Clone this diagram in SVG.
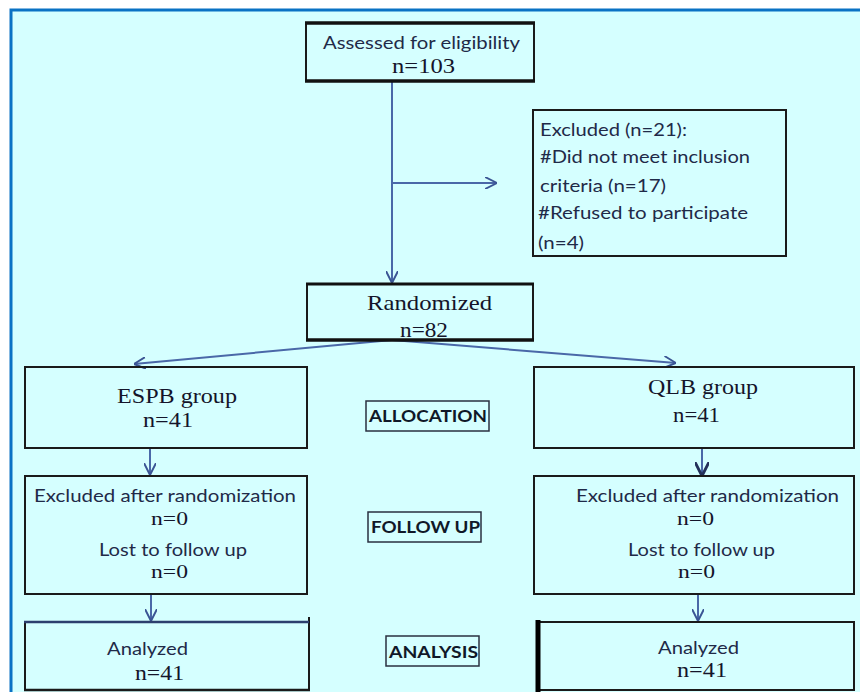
<svg xmlns="http://www.w3.org/2000/svg" width="860" height="692" viewBox="0 0 860 692">
<defs>
<style>
.cal{font-family:Lato,"Liberation Sans",sans-serif;font-size:18px;fill:#1f2a48}
.tnr{font-family:"Liberation Serif","Times New Roman",serif;font-size:21px;fill:#14142a}
.n0{font-family:"Liberation Serif","Times New Roman",serif;font-size:18px;fill:#14142a}
.lbl{font-family:Lato,"Liberation Sans",sans-serif;font-size:17px;font-weight:bold;fill:#101828}
.box{fill:none;stroke:#1a1a1a;stroke-width:2}
.lbox{fill:none;stroke:#2a3040;stroke-width:1.5}
.con{fill:none;stroke:#4a68a8;stroke-width:2}
</style>
<marker id="ah" viewBox="0 0 10 10" refX="10" refY="5" markerWidth="12" markerHeight="12" markerUnits="userSpaceOnUse" orient="auto">
<path d="M0,0 L10,5 L0,10" fill="none" stroke="#3a5494" stroke-width="1.6"/>
</marker>
<marker id="ahd" viewBox="0 0 10 10" refX="10" refY="5" markerWidth="14" markerHeight="14" markerUnits="userSpaceOnUse" orient="auto">
<path d="M0,0 L10,5 L0,10" fill="none" stroke="#23305a" stroke-width="2"/>
</marker>
</defs>
<rect x="0" y="0" width="860" height="692" fill="#ffffff"/>
<rect x="11" y="10" width="880" height="720" fill="#d5ffff" stroke="#0a72c4" stroke-width="3"/>

<g id="connectors">
<line class="con" x1="392" y1="82" x2="392" y2="283" marker-end="url(#ah)"/>
<line class="con" x1="392" y1="183" x2="497" y2="183" marker-end="url(#ah)"/>
<line class="con" x1="392" y1="340" x2="134" y2="364" marker-end="url(#ah)"/>
<line class="con" x1="392" y1="340" x2="676" y2="363" marker-end="url(#ah)"/>
<line class="con" x1="150" y1="448" x2="150" y2="475" marker-end="url(#ah)"/>
<line class="con" x1="702" y1="448" x2="702" y2="476" stroke="#23305a" marker-end="url(#ahd)"/>
<line class="con" x1="151" y1="594" x2="151" y2="621" marker-end="url(#ah)"/>
<line class="con" x1="698" y1="593" x2="698" y2="621" marker-end="url(#ah)"/>
</g>

<g id="assessed">
<line x1="306" y1="23" x2="306" y2="81" stroke="#1a1a1a" stroke-width="2"/>
<line x1="534" y1="23" x2="534" y2="81" stroke="#1a1a1a" stroke-width="2"/>
<line x1="305" y1="23" x2="535" y2="23" stroke="#111" stroke-width="3.5"/>
<line x1="305" y1="81" x2="535" y2="81" stroke="#111" stroke-width="3.5"/>
<text class="cal" x="323" y="49" textLength="197" lengthAdjust="spacingAndGlyphs">Assessed for eligibility</text>
<text class="tnr" x="392" y="73" font-size="20" textLength="63" lengthAdjust="spacingAndGlyphs">n=103</text>
</g>

<g id="excluded">
<rect class="box" x="533" y="110" width="253" height="146"/>
<text class="cal" x="540" y="136" textLength="147" lengthAdjust="spacingAndGlyphs">Excluded (n=21):</text>
<text class="cal" x="540" y="163" textLength="210" lengthAdjust="spacingAndGlyphs">#Did not meet inclusion</text>
<text class="cal" x="540" y="192" textLength="126" lengthAdjust="spacingAndGlyphs">criteria (n=17)</text>
<text class="cal" x="538" y="219" textLength="210" lengthAdjust="spacingAndGlyphs">#Refused to participate</text>
<text class="cal" x="538" y="249" textLength="46" lengthAdjust="spacingAndGlyphs">(n=4)</text>
</g>

<g id="randomized">
<line x1="307" y1="284" x2="307" y2="339" stroke="#1a1a1a" stroke-width="2"/>
<line x1="533" y1="284" x2="533" y2="339" stroke="#1a1a1a" stroke-width="2"/>
<line x1="306" y1="284" x2="534" y2="284" stroke="#111" stroke-width="3"/>
<text class="tnr" x="367" y="310" textLength="125" lengthAdjust="spacingAndGlyphs">Randomized</text>
<text class="tnr" x="400" y="337" textLength="48" lengthAdjust="spacingAndGlyphs">n=82</text>
<line x1="306" y1="340" x2="534" y2="340" stroke="#111" stroke-width="3.5"/>
</g>

<g id="espb">
<rect class="box" x="25" y="367" width="282" height="81"/>
<text class="tnr" x="117" y="403" textLength="120" lengthAdjust="spacingAndGlyphs">ESPB  group</text>
<text class="tnr" x="143" y="427" textLength="50" lengthAdjust="spacingAndGlyphs">n=41</text>
</g>

<g id="qlb">
<rect class="box" x="534" y="367" width="320" height="81"/>
<text class="tnr" x="648" y="394" textLength="110" lengthAdjust="spacingAndGlyphs">QLB group</text>
<text class="tnr" x="673" y="422" textLength="47" lengthAdjust="spacingAndGlyphs">n=41</text>
</g>

<g id="allocation">
<rect class="lbox" x="366" y="401" width="123" height="30"/>
<text class="lbl" x="369" y="422" textLength="118" lengthAdjust="spacingAndGlyphs">ALLOCATION</text>
</g>

<g id="followup-left">
<rect class="box" x="25" y="476" width="282" height="118"/>
<text class="cal" x="34" y="502" textLength="262" lengthAdjust="spacingAndGlyphs">Excluded after randomization</text>
<text class="n0" x="151" y="525" textLength="37" lengthAdjust="spacingAndGlyphs">n=0</text>
<text class="cal" x="99" y="556" textLength="148" lengthAdjust="spacingAndGlyphs">Lost to follow up</text>
<text class="n0" x="151" y="578" textLength="37" lengthAdjust="spacingAndGlyphs">n=0</text>
</g>

<g id="followup">
<rect class="lbox" x="368" y="512" width="113" height="30"/>
<text class="lbl" x="371" y="533" textLength="109" lengthAdjust="spacingAndGlyphs">FOLLOW UP</text>
</g>

<g id="followup-right">
<rect class="box" x="534" y="476" width="320" height="118"/>
<text class="cal" x="576" y="502" textLength="263" lengthAdjust="spacingAndGlyphs">Excluded after randomization</text>
<text class="n0" x="677" y="525" textLength="37" lengthAdjust="spacingAndGlyphs">n=0</text>
<text class="cal" x="628" y="556" textLength="147" lengthAdjust="spacingAndGlyphs">Lost to follow up</text>
<text class="n0" x="678" y="578" textLength="37" lengthAdjust="spacingAndGlyphs">n=0</text>
</g>

<g id="analyzed-left">
<line x1="25" y1="622" x2="25" y2="690" stroke="#1a1a1a" stroke-width="2"/>
<line x1="309" y1="617" x2="309" y2="690" stroke="#1a1a1a" stroke-width="2"/>
<line x1="24" y1="622" x2="309" y2="622" stroke="#2c3f6e" stroke-width="2.5"/>
<line x1="24" y1="690" x2="310" y2="690" stroke="#1a1a1a" stroke-width="2.5"/>
<text class="cal" x="107" y="655" textLength="81" lengthAdjust="spacingAndGlyphs">Analyzed</text>
<text class="tnr" x="135" y="680" textLength="49" lengthAdjust="spacingAndGlyphs">n=41</text>
</g>

<g id="analysis">
<rect class="lbox" x="386" y="636" width="93" height="30"/>
<text class="lbl" x="389" y="658" textLength="89" lengthAdjust="spacingAndGlyphs">ANALYSIS</text>
</g>

<g id="analyzed-right">
<rect class="box" x="537" y="622" width="317" height="68"/>
<line x1="538" y1="620" x2="538" y2="692" stroke="#000" stroke-width="5"/>
<text class="cal" x="658" y="654" textLength="81" lengthAdjust="spacingAndGlyphs">Analyzed</text>
<text class="tnr" x="677" y="677" textLength="50" lengthAdjust="spacingAndGlyphs">n=41</text>
</g>
</svg>
